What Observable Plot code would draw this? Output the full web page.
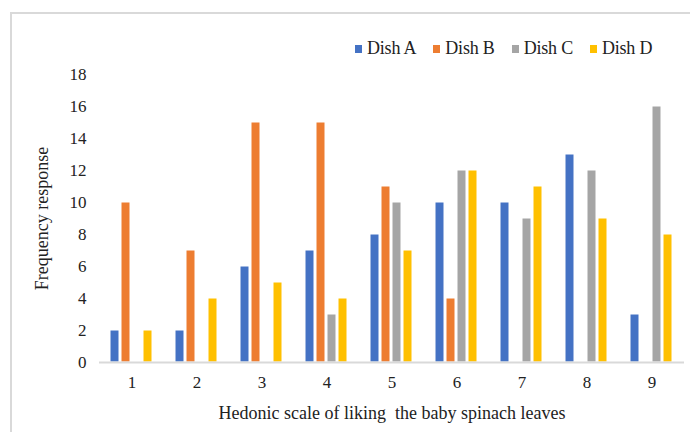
<!DOCTYPE html>
<html><head><meta charset="utf-8">
<script src="https://cdn.jsdelivr.net/npm/d3@7"></script>
<script src="https://cdn.jsdelivr.net/npm/@observablehq/plot@0.6"></script>
<style>
body{margin:0;background:#fff;}
#wrap{position:relative;width:690px;height:432px;overflow:hidden;font-family:"Liberation Serif",serif;background:#fff;}
#frame{position:absolute;left:10px;top:12px;width:700px;height:440px;border:2px solid #d9d9d9;box-sizing:border-box;}
#legend{position:absolute;top:38px;left:355px;display:flex;font-size:18px;color:#222;letter-spacing:-0.2px;}
#legend .item{display:flex;align-items:center;margin-right:17px;}
#legend .sw{width:7px;height:8px;margin-right:5px;}
#chart{position:absolute;left:0;top:0;}
#chart svg text{font-family:"Liberation Serif",serif;}
</style>
</head><body>
<div id="wrap"><div id="frame"></div><div id="chart"></div><div id="legend"></div></div>
<script>
const scalePoints = [1, 2, 3, 4, 5, 6, 7, 8, 9];
const dishes = ["Dish A", "Dish B", "Dish C", "Dish D"];
const dishA = [2, 2, 6, 7, 8, 10, 10, 13, 3];
const dishB = [10, 7, 15, 15, 11, 4, 0, 0, 0];
const dishC = [0, 0, 0, 3, 10, 12, 9, 12, 16];
const dishD = [2, 4, 5, 4, 7, 12, 11, 9, 8];
const colors = ["#4472C4", "#ED7D31", "#A5A5A5", "#FFC000"];
const yTicks = [0, 2, 4, 6, 8, 10, 12, 14, 16, 18];

const series = [dishA, dishB, dishC, dishD];
const rows = [];
scalePoints.forEach((s, i) => {
  dishes.forEach((d, j) => {
    const v = series[j][i];
    if (v > 0) rows.push({scale: s, dish: d, value: v});
  });
});

const chart = Plot.plot({
  width: 690,
  height: 432,
  marginTop: 74,
  marginBottom: 70,
  marginLeft: 98,
  marginRight: 5,
  style: {fontFamily: "'Liberation Serif', serif", fontSize: "17px", color: "#222", background: "transparent"},
  fx: {domain: scalePoints, padding: 0},
  x: {domain: dishes, paddingInner: 0.15, paddingOuter: 0.85, axis: null},
  y: {domain: [0, 18]},
  color: {domain: dishes, range: colors},
  marks: [
    Plot.barY(rows, {fx: "scale", x: "dish", y: "value", fill: "dish", stroke: "white", strokeWidth: 1}),
    Plot.ruleY([0], {stroke: "#d9d9d9", strokeWidth: 2}),
    Plot.axisY({ticks: yTicks, tickSize: 0, tickPadding: 13, fontSize: 17, label: null}),
    Plot.axisY({ticks: [], tickSize: 0, label: "Frequency response", labelAnchor: "center", labelOffset: 64, labelArrow: "none", fontSize: 18}),
    Plot.axisFx({anchor: "bottom", tickSize: 0, tickPadding: 13, fontSize: 17, label: null}),
    Plot.axisFx({anchor: "bottom", ticks: [], tickSize: 0, label: "Hedonic scale of liking  the baby spinach leaves", labelAnchor: "center", labelOffset: 56, labelArrow: "none", fontSize: 18})
  ]
});
document.getElementById("chart").appendChild(chart);

const legend = document.getElementById("legend");
dishes.forEach((d, i) => {
  const item = document.createElement("div");
  item.className = "item";
  const sw = document.createElement("span");
  sw.className = "sw";
  sw.style.background = colors[i];
  const t = document.createElement("span");
  t.textContent = d;
  item.appendChild(sw);
  item.appendChild(t);
  legend.appendChild(item);
});
</script>
</body></html>
